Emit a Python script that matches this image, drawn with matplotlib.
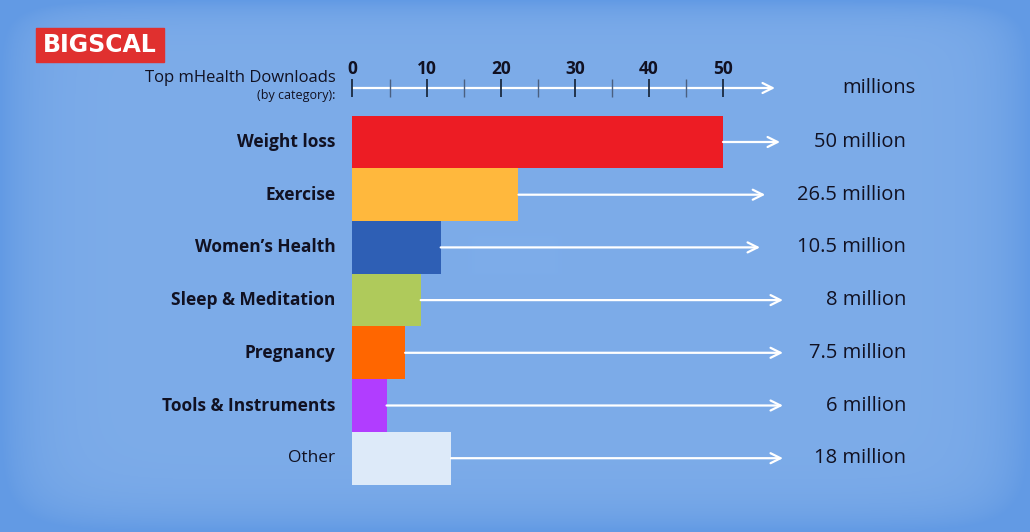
"""Top mHealth downloads by category, drawn as a flat infographic bar chart."""
import numpy as np
import matplotlib

matplotlib.use("Agg")
import matplotlib.pyplot as plt  # noqa: E402

categories = ["Weight loss", "Exercise", "Women’s Health", "Sleep & Meditation",
              "Pregnancy", "Tools & Instruments", "Other"]
bar_lengths = [50, 22.4, 11.9, 9.2, 7.1, 4.6, 13.3]   # as drawn on the 0-50 scale
value_labels = ["50 million", "26.5 million", "10.5 million", "8 million",
                "7.5 million", "6 million", "18 million"]
arrow_tips = [57.7, 55.7, 55.0, 58.1, 58.1, 58.1, 58.1]
bold_label = [True, True, True, True, True, True, False]
colors = ["#ED1C24", "#FFB83D", "#2E5FB5", "#AFCA5B", "#FF6600", "#B13DFF", "#DDEAF9"]
major_ticks = [0, 10, 20, 30, 40, 50]
minor_ticks = [5, 15, 25, 35, 45]

W, H, DPI = 1030, 532, 100
PX = 7.41          # pixels per million
X0 = 352.5         # pixel position of zero
ROW = 52.7         # pixels per category row
Y0 = 142           # pixel centre of the first row
FONT = "Open Sans"
INK = "#111122"

fig = plt.figure(figsize=(W / DPI, H / DPI), dpi=DPI)

# soft blue vignette background
bg = fig.add_axes([0, 0, 1, 1], zorder=0)
gx, gy = np.meshgrid(np.linspace(-1, 1, W), np.linspace(-1, 1, H))
edge = np.clip(np.abs(gx) ** 14 + np.where(gy > 0, np.abs(gy) ** 10, np.abs(gy) ** 16), 0, 1)
centre = np.array([125, 172, 233]) / 255
rim = np.array([98, 154, 228]) / 255
img = centre + (rim - centre) * edge[..., None]
bg.imshow(img, aspect="auto", extent=[0, 1, 0, 1])
bg.axis("off")

ax = fig.add_axes([0, 0, 1, 1], zorder=1)
ax.set_facecolor("none")
ax.set_xlim(-X0 / PX, (W - X0) / PX)
ax.set_ylim((H - Y0) / ROW, -Y0 / ROW)
ax.axis("off")

ypos = np.arange(len(categories))
ax.barh(ypos, bar_lengths, height=1.0, color=colors, edgecolor="none", zorder=2)

for y, cat, bold in zip(ypos, categories, bold_label):
    ax.text(-2.3, y, cat, ha="right", va="center", fontsize=12.5, family=FONT,
            fontweight="bold" if bold else "normal", color=INK)

for y, length, tip, lab in zip(ypos, bar_lengths, arrow_tips, value_labels):
    ax.annotate("", xy=(tip, y), xytext=(length, y),
                arrowprops=dict(arrowstyle="->", color="white", lw=1.6,
                                mutation_scale=18, shrinkA=0, shrinkB=0))
    ax.text(74.7, y, lab, ha="right", va="center", fontsize=14.5, family=FONT,
            color=INK)

# top scale
axis_y = -(Y0 - 88) / ROW
tick_half = 8.5 / ROW
ax.annotate("", xy=((775 - X0) / PX, axis_y), xytext=(0, axis_y),
            arrowprops=dict(arrowstyle="->", color="white", lw=1.6,
                            mutation_scale=18, shrinkA=0, shrinkB=0))
ax.vlines(major_ticks, axis_y - tick_half, axis_y + tick_half, color="#1a2a40", lw=1.3, zorder=3)
ax.vlines(minor_ticks, axis_y - tick_half, axis_y + tick_half, color="#4a5f80", lw=1.0, zorder=3)
for t in major_ticks:
    ax.text(t, axis_y - 19 / ROW, str(t), ha="center", va="center", fontsize=12.5,
            fontweight="bold", family=FONT, color=INK)

ax.text(-2.3, axis_y - 10 / ROW, "Top mHealth Downloads", ha="right", va="center",
        fontsize=12, family=FONT, color=INK)
ax.text(-2.3, axis_y + 7 / ROW, "(by category):", ha="right", va="center",
        fontsize=9, family=FONT, color=INK)
ax.text((915 - X0) / PX, axis_y, "millions", ha="right", va="center", fontsize=14.5,
        family=FONT, color=INK)

# logo
fig.patches.append(plt.Rectangle((36 / W, 1 - 62 / H), 128 / W, 34 / H,
                                 transform=fig.transFigure, color="#E0302F", zorder=3))
fig.text(100 / W, 1 - 45 / H, "BIGSCAL", ha="center", va="center", fontsize=17,
         fontweight="bold", family="DejaVu Sans", color="white", zorder=4)

fig.savefig("out.png", dpi=DPI)
